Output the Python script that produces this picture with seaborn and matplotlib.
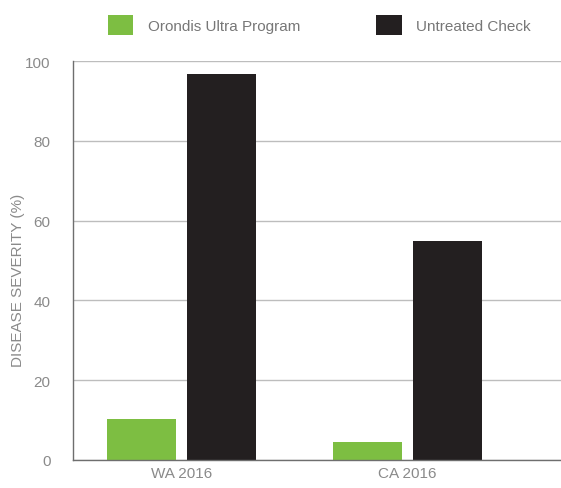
import matplotlib
matplotlib.use("Agg")
import matplotlib.pyplot as plt
import seaborn as sns
import pandas as pd

# ---- Data ----
sites = ["WA 2016", "CA 2016"]
treatments = ["Orondis Ultra Program", "Untreated Check"]
orondis = [10.3, 4.6]
untreated = [96.8, 54.9]
y_ticks = [0, 20, 40, 60, 80, 100]

GREEN = "#7dbe42"
BLACK = "#231f20"
TEXT = "#8a8a8a"

df = pd.DataFrame({
    "site": sites * 2,
    "treatment": [treatments[0]] * len(sites) + [treatments[1]] * len(sites),
    "severity": orondis + untreated,
})

sns.set_style("white")
plt.rcParams["font.family"] = ["Liberation Sans", "DejaVu Sans"]

fig = plt.figure(figsize=(5.61, 4.89), dpi=100)
ax = fig.add_axes([0.1296, 0.0573, 0.8704, 0.8155])

sns.barplot(data=df, x="site", y="severity", hue="treatment",
            hue_order=treatments, order=sites,
            palette=[GREEN, BLACK], saturation=1,
            width=0.706, gap=0.136, errorbar=None,
            linewidth=0, edgecolor="none", ax=ax)

ax.set_xlim(-0.48, 1.68)
ax.set_ylim(0, 100)
ax.set_yticks(y_ticks)
ax.yaxis.grid(True, color="#bdbdbd", lw=1)
ax.set_axisbelow(True)

for s in ["top", "right"]:
    ax.spines[s].set_visible(False)
for s in ["left", "bottom"]:
    ax.spines[s].set_color("#6e6e6e")
    ax.spines[s].set_linewidth(1)

ax.tick_params(axis="y", length=10, color="#bdbdbd", width=1,
               labelsize=11, labelcolor=TEXT, pad=6)
ax.tick_params(axis="x", length=0, labelsize=11, labelcolor=TEXT, pad=4)

ax.set_xlabel("")
ax.set_ylabel("DISEASE SEVERITY (%)", fontsize=11, color=TEXT)
ax.yaxis.set_label_coords(-0.098, 0.454)

sns.move_legend(ax, loc="center", bbox_to_anchor=(0.505, 1.09), ncol=2,
                frameon=False, title=None, fontsize=11,
                handlelength=1.65, handleheight=1.65,
                handletextpad=0.95, columnspacing=5.0)
for t in ax.get_legend().get_texts():
    t.set_color("#777777")

fig.savefig("out.png", dpi=100)
